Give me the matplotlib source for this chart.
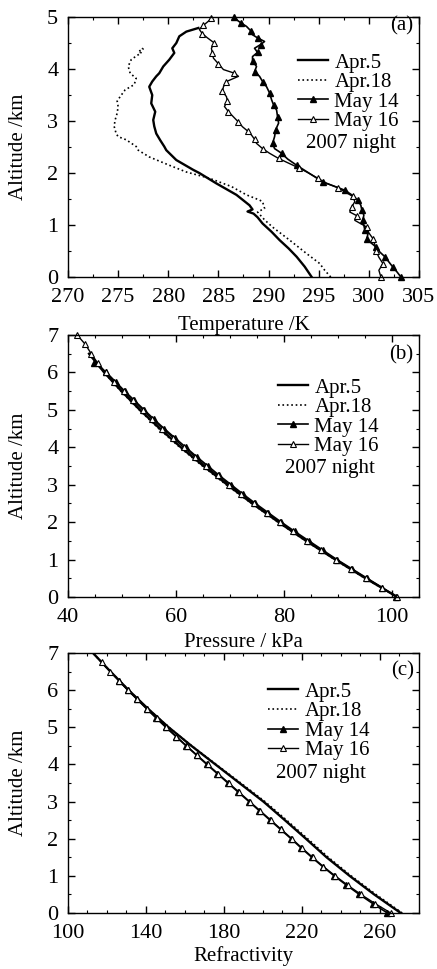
import matplotlib
matplotlib.use('Agg')
import matplotlib.pyplot as plt
from matplotlib.ticker import MultipleLocator

plt.rcParams['font.family'] = ['Liberation Serif', 'DejaVu Serif']

# ---- (a) temperature profiles ----
apr5_alt_a = [0, 0.2, 0.39, 0.55, 0.71, 0.87, 1.03, 1.15, 1.22, 1.26, 1.3, 1.38, 1.58, 1.8, 2.0,
              2.06, 2.25, 2.44, 2.51, 2.63, 2.76, 2.9, 3.02, 3.18, 3.34, 3.5, 3.66, 3.76, 3.86,
              3.92, 4.05, 4.18, 4.31, 4.4, 4.5, 4.63, 4.72, 4.79]
apr5_temp = [294.3, 293.6, 292.8, 292.0, 291.1, 290.3, 289.4, 288.9, 288.5, 287.9, 288.4, 288.1,
             286.8, 284.8, 283.1, 282.5, 280.8, 279.8, 279.6, 279.2, 278.8, 278.6, 278.5, 278.7,
             278.3, 278.4, 278.1, 278.4, 278.8, 279.1, 279.5, 280.1, 280.6, 280.4, 280.8, 281.1,
             281.8, 283.0]

apr18_alt_a = [0, 0.13, 0.26, 0.45, 0.71, 0.96, 1.1, 1.25, 1.32, 1.45, 1.48, 1.58, 1.74, 1.9, 2.02,
               2.15, 2.31, 2.44, 2.51, 2.64, 2.7, 2.76, 2.9, 3.02, 3.15, 3.28, 3.38, 3.47, 3.6,
               3.7, 3.82, 3.92, 4.05, 4.18, 4.25, 4.31, 4.34, 4.38, 4.44]
apr18_temp = [296.2, 295.6, 295.1, 293.8, 292.1, 290.4, 289.6, 288.9, 289.6, 289.4, 289.1, 287.8,
              286.3, 284.1, 281.8, 280.1, 278.1, 277.0, 276.8, 275.8, 275.0, 274.8, 274.6, 274.7,
              274.9, 275.0, 274.9, 275.2, 275.7, 276.6, 276.8, 276.2, 276.0, 276.3, 276.8, 277.3,
              277.0, 277.5, 277.2]

may14_alt_a = [0, 0.1, 0.19, 0.29, 0.39, 0.48, 0.58, 0.66, 0.74, 0.82, 0.90, 1.0, 1.09, 1.19, 1.29,
               1.38, 1.48, 1.58, 1.67, 1.75, 1.83, 1.99, 2.15, 2.27, 2.38, 2.47, 2.57, 2.70, 2.83,
               2.96, 3.08, 3.21, 3.31, 3.41, 3.54, 3.66, 3.76, 3.86, 3.95, 4.05, 4.15, 4.24, 4.32,
               4.40, 4.47, 4.53, 4.60, 4.66, 4.74, 4.82, 4.88, 4.95, 5.0]
may14_temp = [303.2, 302.8, 302.4, 302.0, 301.6, 301.1, 300.7, 300.2, 299.8, 299.9, 299.6, 299.5,
              299.4, 299.5, 299.3, 299.2, 298.9, 298.3, 297.6, 296.5, 295.4, 294.1, 292.8, 291.9,
              291.3, 290.6, 290.4, 290.6, 290.7, 291.0, 290.9, 290.8, 290.5, 290.3, 290.1, 289.8,
              289.4, 289.1, 288.6, 288.8, 288.4, 288.4, 288.9, 288.6, 289.2, 289.6, 288.9, 288.4,
              288.2, 287.8, 287.3, 286.8, 286.6]

may16_alt_a = [0, 0.13, 0.26, 0.38, 0.51, 0.62, 0.74, 0.85, 0.96, 1.09, 1.18, 1.25, 1.35, 1.45,
               1.55, 1.64, 1.72, 1.80, 1.9, 2.01, 2.1, 2.19, 2.28, 2.38, 2.47, 2.57, 2.65, 2.73,
               2.81, 2.89, 2.98, 3.08, 3.18, 3.28, 3.38, 3.47, 3.57, 3.66, 3.76, 3.86, 3.92, 3.99,
               4.1, 4.21, 4.3, 4.40, 4.5, 4.6, 4.68, 4.76, 4.84, 4.92, 4.98]
may16_temp = [301.2, 301.0, 301.4, 301.0, 300.7, 300.6, 300.4, 300.0, 299.8, 298.6, 298.8, 298.1,
              298.3, 298.6, 298.4, 297.6, 296.9, 295.8, 294.9, 293.9, 293.0, 292.0, 291.0, 290.1,
              289.4, 288.8, 288.6, 288.3, 287.9, 287.4, 287.0, 286.5, 286.0, 285.6, 285.9, 285.8,
              285.4, 285.5, 285.8, 287.0, 286.6, 285.5, 285.0, 284.5, 284.4, 284.3, 284.6, 283.9,
              283.4, 283.1, 283.5, 284.0, 284.3]

# ---- (b) pressure profiles ----
alt_half = [0, 0.5, 1, 1.5, 2, 2.5, 3, 3.5, 4, 4.5, 5, 5.5, 6, 6.5]
alt_quarter = [0, 0.25, 0.5, 0.75, 1, 1.25, 1.5, 1.75, 2, 2.25, 2.5, 2.75, 3, 3.25, 3.5, 3.75,
               4, 4.25, 4.5, 4.75, 5, 5.25, 5.5, 5.75, 6, 6.25, 6.5, 6.75, 7]
apr5_pres = [101.0, 95.1, 89.5, 84.1, 79.0, 74.1, 69.5, 65.1, 60.9, 57.0, 53.3, 49.9, 46.7, 43.9]
apr18_pres = [100.9, 95.0, 89.4, 84.0, 78.9, 74.0, 69.3, 64.9, 60.7, 56.8, 53.2, 49.8, 46.7, 43.9]
may14_pres = [100.8, 98.2, 95.4, 92.6, 89.8, 87.2, 84.6, 82.0, 79.5, 77.1, 74.7, 72.4, 70.2, 68.0,
              65.9, 63.8, 61.8, 59.8, 57.8, 55.9, 54.1, 52.3, 50.5, 48.8, 47.1, 44.9]
may16_pres = [101.0, 98.1, 95.2, 92.4, 89.6, 86.9, 84.3, 81.7, 79.2, 76.8, 74.4, 72.1, 69.9, 67.7,
              65.5, 63.5, 61.4, 59.5, 57.5, 55.6, 53.8, 52.0, 50.3, 48.6, 47.0, 45.5, 44.3, 43.2,
              41.7]

# ---- (c) refractivity profiles ----
alt_half_c = [0, 0.5, 1, 1.5, 2, 2.5, 3, 3.5, 4, 4.5, 5, 5.5, 6, 6.5, 7]
apr5_refr = [270.6, 257.0, 244.4, 232.6, 222.0, 211.2, 200.2, 187.9, 175.6, 163.3, 151.6, 141.0,
             131.1, 121.8, 112.8]
apr18_refr = [271.4, 257.9, 245.2, 233.5, 222.9, 212.1, 201.0, 188.6, 176.0, 163.5, 151.7, 141.0,
              131.1, 121.8, 112.8]
may14_refr = [263.8, 256.4, 249.4, 242.8, 236.5, 230.6, 225.0, 219.6, 214.4, 209.0, 203.6, 198.2,
              192.8, 187.4, 182.0, 176.6, 171.2, 165.9, 160.6, 155.4, 150.2, 145.2, 140.3, 135.5,
              130.7, 126.1]
may16_refr = [265.5, 257.6, 250.2, 243.4, 237.0, 231.0, 225.4, 220.0, 214.8, 209.4, 204.0, 198.6,
              193.2, 187.8, 182.4, 177.0, 171.6, 166.2, 160.8, 155.6, 150.4, 145.4, 140.4, 135.6,
              130.8, 126.2, 121.6, 117.2]

labels = ['Apr.5', 'Apr.18', 'May 14', 'May 16']

fig = plt.figure(figsize=(4.37, 9.69), dpi=100)
ax_a = fig.add_axes([0.1556, 0.7141, 0.8032, 0.2683])
ax_b = fig.add_axes([0.1556, 0.3839, 0.8032, 0.2704])
ax_c = fig.add_axes([0.1556, 0.0578, 0.8032, 0.2683])


def draw(ax, a5, a18, m14, m16, every=1):
    ax.plot(a5[0], a5[1], '-', color='k', lw=1.7, label=labels[0])
    ax.plot(a18[0], a18[1], ':', color='k', lw=1.2, label=labels[1])
    ax.plot(m14[0], m14[1], '-', color='k', lw=1.2, marker='^', ms=4.5, mfc='k', mec='k',
            markevery=every, label=labels[2], clip_on=False)
    ax.plot(m16[0], m16[1], '-', color='k', lw=1.0, marker='^', ms=5, mfc='white', mec='k',
            mew=0.8, markevery=every, label=labels[3], clip_on=False)


def style(ax, xlim, ylim, xmaj, xmin, xlabel, tag, tag_y, leg_xy, note_xy, xlab_y):
    ax.set_xlim(*xlim)
    ax.set_ylim(*ylim)
    ax.xaxis.set_major_locator(MultipleLocator(xmaj))
    ax.xaxis.set_minor_locator(MultipleLocator(xmin))
    ax.yaxis.set_major_locator(MultipleLocator(1))
    ax.yaxis.set_minor_locator(MultipleLocator(0.5))
    ax.tick_params(which='both', direction='in', top=True, right=True, labelsize=16)
    ax.tick_params(which='major', length=5, width=1)
    ax.tick_params(which='minor', length=2.5, width=0.8)
    ax.tick_params(axis='x', pad=8)
    ax.tick_params(axis='y', pad=7)
    for s in ax.spines.values():
        s.set_linewidth(1.0)
    ax.set_xlabel(xlabel, fontsize=15)
    ax.xaxis.set_label_coords(0.5, xlab_y)
    ax.set_ylabel('Altitude /km', fontsize=15)
    ax.yaxis.set_label_coords(-0.115, 0.5)
    ax.text(0.985, tag_y, tag, transform=ax.transAxes, ha='right', va='center', fontsize=15)
    ax.legend(loc='upper left', bbox_to_anchor=leg_xy, frameon=False, fontsize=15,
              handlelength=1.45, handletextpad=0.3, labelspacing=0.0, borderpad=0,
              borderaxespad=0, numpoints=1)
    ax.text(note_xy[0], note_xy[1], '2007 night', transform=ax.transAxes, ha='left',
            va='center', fontsize=15)


draw(ax_a, (apr5_temp, apr5_alt_a), (apr18_temp, apr18_alt_a),
     (may14_temp, may14_alt_a), (may16_temp, may16_alt_a), every=2)
style(ax_a, (270, 305), (0, 5), 5, 2.5, 'Temperature /K', '(a)', 0.967,
      (0.655, 0.862), (0.678, 0.512), -0.148)
ax_a.set_xticks([270, 275, 280, 285, 290, 295, 300, 305])

draw(ax_b, (apr5_pres, alt_half), (apr18_pres, alt_half),
     (may14_pres, alt_quarter[:len(may14_pres)]), (may16_pres, alt_quarter))
style(ax_b, (40, 105), (0, 7), 20, 5, 'Pressure / kPa', '(b)', 0.924,
      (0.598, 0.836), (0.618, 0.489), -0.138)

draw(ax_c, (apr5_refr, alt_half_c), (apr18_refr, alt_half_c),
     (may14_refr, alt_quarter[:len(may14_refr)]), (may16_refr, alt_quarter[:len(may16_refr)]))
style(ax_c, (100, 280), (0, 7), 40, 10, 'Refractivity', '(c)', 0.931,
      (0.570, 0.888), (0.593, 0.535), -0.128)
ax_c.set_xticks([100, 140, 180, 220, 260])

fig.savefig('out.png', dpi=100)
